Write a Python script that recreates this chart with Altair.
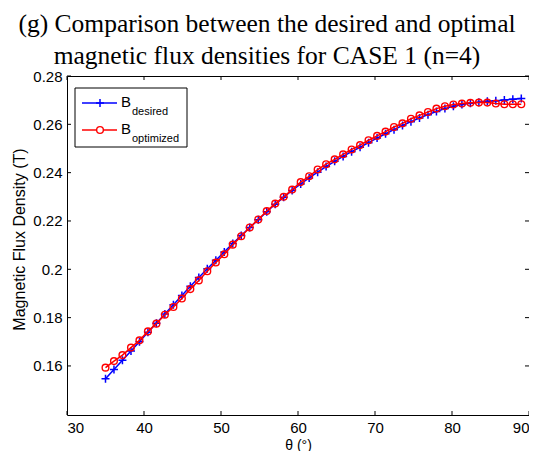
import altair as alt
import pandas as pd

# ---------------- data ----------------
theta = [35.00, 36.10, 37.20, 38.31, 39.41, 40.51, 41.61, 42.71, 43.82, 44.92,
         46.02, 47.12, 48.22, 49.33, 50.43, 51.53, 52.63, 53.73, 54.84, 55.94,
         57.04, 58.14, 59.24, 60.35, 61.45, 62.55, 63.65, 64.76, 65.86, 66.96,
         68.06, 69.16, 70.27, 71.37, 72.47, 73.57, 74.67, 75.78, 76.88, 77.98,
         79.08, 80.18, 81.29, 82.39, 83.49, 84.59, 85.69, 86.80, 87.90, 89.00]

b_desired = [0.1547, 0.1585, 0.1624, 0.1662, 0.1700, 0.1739, 0.1777, 0.1815, 0.1853, 0.1892,
             0.1930, 0.1966, 0.2002, 0.2037, 0.2072, 0.2107, 0.2140, 0.2173, 0.2205, 0.2238,
             0.2269, 0.2298, 0.2326, 0.2353, 0.2378, 0.2402, 0.2425, 0.2447, 0.2467, 0.2487,
             0.2505, 0.2524, 0.2543, 0.2561, 0.2578, 0.2595, 0.2611, 0.2626, 0.2640, 0.2653,
             0.2665, 0.2675, 0.2682, 0.2687, 0.2691, 0.2695, 0.2698, 0.2701, 0.2704, 0.2707]

b_optimized = [0.1593, 0.1620, 0.1645, 0.1676, 0.1706, 0.1743, 0.1775, 0.1812, 0.1844, 0.1879,
               0.1918, 0.1954, 0.1992, 0.2028, 0.2062, 0.2102, 0.2137, 0.2173, 0.2206, 0.2241,
               0.2272, 0.2300, 0.2330, 0.2361, 0.2385, 0.2413, 0.2435, 0.2455, 0.2476, 0.2496,
               0.2514, 0.2534, 0.2552, 0.2570, 0.2589, 0.2604, 0.2623, 0.2637, 0.2651, 0.2665,
               0.2675, 0.2682, 0.2686, 0.2689, 0.2690, 0.2690, 0.2686, 0.2683, 0.2683, 0.2683]

x_ticks = [30, 40, 50, 60, 70, 80, 90]
y_ticks = [0.16, 0.18, 0.20, 0.22, 0.24, 0.26, 0.28]
x_domain = [30, 90]
y_domain = [0.1397, 0.28]

title_lines = ["(g) Comparison between the desired and optimal",
               "magnetic flux densities for CASE 1 (n=4)"]
x_title = "\u03b8 (\u00b0)"
y_title = "Magnetic Flux Density (T)"
legend_main = ["B", "B"]
legend_sub = ["desired", "optimized"]

W, H = 462, 339
BLUE, RED = "#0000ff", "#ff0000"

df_d = pd.DataFrame({"theta": theta, "B": b_desired})
df_o = pd.DataFrame({"theta": theta, "B": b_optimized})
df_xt = pd.DataFrame({"t": x_ticks})
df_yt = pd.DataFrame({"t": y_ticks})

x_axis = alt.Axis(values=x_ticks, title=x_title, titleFont="Liberation Sans",
                  titleFontSize=14, titleFontWeight="normal", titleColor="black",
                  titleBaseline="alphabetic", titleY=34, titleAnchor="middle",
                  labelFont="Liberation Sans", labelFontSize=15, labelColor="black",
                  labelPadding=5, domain=False, ticks=False, tickSize=0, grid=False)
y_axis = alt.Axis(values=y_ticks, format=".2~f", title=y_title, titleFont="Liberation Sans",
                  titleFontSize=16, titleFontWeight="normal", titleColor="black",
                  titleAngle=270, titleBaseline="alphabetic", titleAlign="center",
                  titleX=-43, titleY=163,
                  labelFont="Liberation Sans", labelFontSize=15, labelColor="black",
                  labelPadding=5, domain=False, ticks=False, tickSize=0, grid=False)
xs = alt.Scale(domain=x_domain, nice=False, zero=False)
ys = alt.Scale(domain=y_domain, nice=False, zero=False)

def X(f):
    return alt.X(f, type="quantitative", scale=xs, axis=x_axis)

def Y(f):
    return alt.Y(f, type="quantitative", scale=ys, axis=y_axis)

line_d = alt.Chart(df_d).mark_line(color=BLUE, strokeWidth=1.5).encode(x=X("theta"), y=Y("B"))
pts_d = alt.Chart(df_d).mark_point(shape="M-1,0H1M0,-1V1", size=64, stroke=BLUE,
                                   strokeWidth=1.5, filled=False, opacity=1).encode(x=X("theta"), y=Y("B"))
line_o = alt.Chart(df_o).mark_line(color=RED, strokeWidth=1.5).encode(x=X("theta"), y=Y("B"))
pts_o = alt.Chart(df_o).mark_point(shape="circle", size=45, stroke=RED, strokeWidth=1.4,
                                   filled=False, opacity=1).encode(x=X("theta"), y=Y("B"))

# inward ticks on all four sides
tk = dict(color="black", strokeWidth=1)
t_bottom = alt.Chart(df_xt).mark_rule(**tk).encode(x=X("t"), y=alt.value(H), y2=alt.value(H - 4))
t_top = alt.Chart(df_xt).mark_rule(**tk).encode(x=X("t"), y=alt.value(0), y2=alt.value(4))
t_left = alt.Chart(df_yt).mark_rule(**tk).encode(y=Y("t"), x=alt.value(0), x2=alt.value(4))
t_right = alt.Chart(df_yt).mark_rule(**tk).encode(y=Y("t"), x=alt.value(W), x2=alt.value(W - 4))

# manual legend (subscripts)
one = pd.DataFrame({"k": [0]})
leg_box = alt.Chart(one).mark_rect(fill="white", stroke="black", strokeWidth=1).encode(
    x=alt.value(8), x2=alt.value(120), y=alt.value(12), y2=alt.value(71))
leg_l1 = alt.Chart(one).mark_rule(color=BLUE, strokeWidth=1.5).encode(
    x=alt.value(15), x2=alt.value(50), y=alt.value(27))
leg_p1 = alt.Chart(one).mark_point(shape="M-1,0H1M0,-1V1", size=64, stroke=BLUE,
                                   strokeWidth=1.5, opacity=1).encode(x=alt.value(33), y=alt.value(27))
leg_l2 = alt.Chart(one).mark_rule(color=RED, strokeWidth=1.5).encode(
    x=alt.value(15), x2=alt.value(50), y=alt.value(54))
leg_p2 = alt.Chart(one).mark_point(shape="circle", size=45, stroke=RED, strokeWidth=1.4,
                                   fill="white", filled=True, opacity=1).encode(x=alt.value(33), y=alt.value(54))
txt = dict(font="Liberation Sans", color="black", align="left", baseline="alphabetic")
leg_b1 = alt.Chart(one).mark_text(fontSize=15, text=legend_main[0], **txt).encode(x=alt.value(54), y=alt.value(31))
leg_s1 = alt.Chart(one).mark_text(fontSize=11, text=legend_sub[0], **txt).encode(x=alt.value(65), y=alt.value(38.5))
leg_b2 = alt.Chart(one).mark_text(fontSize=15, text=legend_main[1], **txt).encode(x=alt.value(54), y=alt.value(58))
leg_s2 = alt.Chart(one).mark_text(fontSize=11, text=legend_sub[1], **txt).encode(x=alt.value(65), y=alt.value(65.5))

chart = alt.layer(
    line_d, pts_d, line_o, pts_o, t_bottom, t_top, t_left, t_right,
    leg_box, leg_l1, leg_p1, leg_l2, leg_p2, leg_b1, leg_s1, leg_b2, leg_s2
).properties(
    width=W, height=H,
    background="white",
    title=alt.TitleParams(text=title_lines, font="Liberation Serif", fontSize=25.5,
                          fontWeight="normal", color="black", lineHeight=32,
                          anchor="middle", dx=-31, offset=0),
    autosize=alt.AutoSizeParams(type="none"),
    padding={"left": 59, "top": 68, "right": 0, "bottom": 36},
).configure_view(
    stroke="black", strokeWidth=1
).configure_axis(
    domain=False, ticks=False, tickSize=0, grid=False,
    labelFont="Liberation Sans", labelFontSize=15, labelColor="black", labelPadding=5
)

chart.save("out.html", embed_options={"renderer": "svg", "actions": False})
